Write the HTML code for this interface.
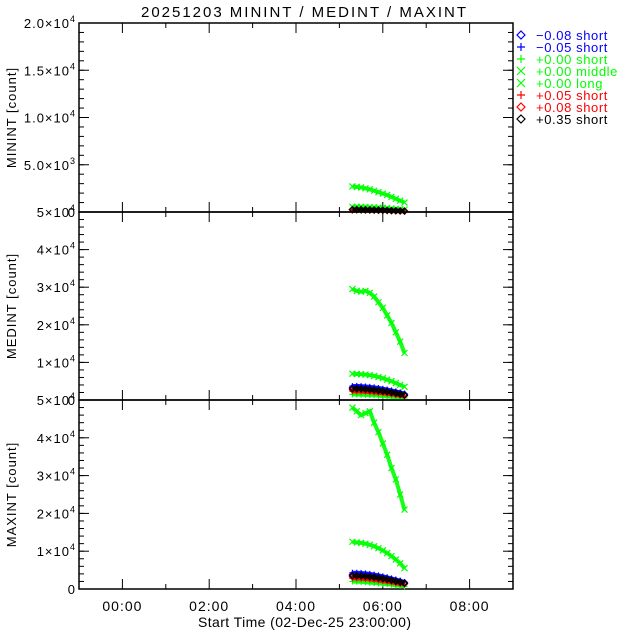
<!DOCTYPE html>
<html><head><meta charset="utf-8">
<style>
html,body{margin:0;padding:0;background:#fff;}
svg{display:block;font-family:"Liberation Sans",sans-serif;}
text{letter-spacing:1px;}
</style></head>
<body>
<svg id="chart" width="640" height="640" viewBox="0 0 640 640"></svg>
<script>
// ---- data ----
const times = [5.3,5.4,5.5,5.6,5.7,5.8,5.9,6.0,6.1,6.2,6.3,6.4,6.5];
const seriesNames = ["-0.08 short","-0.05 short","+0.00 short","+0.00 middle","+0.00 long","+0.05 short","+0.08 short","+0.35 short"];
const seriesLabels = ["\u22120.08 short","\u22120.05 short","+0.00 short","+0.00 middle","+0.00 long","+0.05 short","+0.08 short","+0.35 short"];
const seriesColors = ["#0000ff","#0000ff","#00ff00","#00ff00","#00ff00","#ff0000","#ff0000","#000000"];
const seriesSymbols = ["diamond","plus","plus","cross","cross","plus","diamond","diamond"];
// MININT
const minM008 = [250,250,240,230,220,210,200,190,170,150,130,110,100];
const minM005 = [300,300,290,280,270,260,240,220,200,180,160,140,120];
const minS000 = [150,150,140,140,130,120,110,100,90,80,70,60,50];
const minMid000 = [550,550,540,520,500,480,460,430,400,360,320,280,250];
const minLong000 = [2700,2650,2600,2500,2400,2250,2100,1950,1800,1600,1400,1200,1000];
const minP005 = [200,200,190,180,170,160,150,140,130,110,100,90,80];
const minP008 = [220,220,210,200,190,180,170,160,150,130,120,100,90];
const minP035 = [260,260,250,240,230,220,210,200,180,160,140,120,100];
// MEDINT
const medM008 = [3300,3300,3250,3150,3050,2900,2750,2600,2400,2200,2000,1800,1500];
const medM005 = [3700,3750,3700,3600,3500,3350,3200,3000,2800,2550,2300,2000,1700];
const medS000 = [1500,1450,1400,1350,1300,1250,1150,1050,950,850,750,650,550];
const medMid000 = [7000,6900,6850,6750,6600,6400,6100,5800,5400,5000,4500,4000,3500];
const medLong000 = [29500,29000,28800,29000,28500,27500,26000,24500,22500,20500,18000,15500,12500];
const medP005 = [2300,2300,2250,2200,2100,2000,1900,1800,1650,1500,1350,1200,1000];
const medP008 = [2700,2700,2650,2550,2450,2350,2250,2100,1950,1800,1600,1400,1200];
const medP035 = [3000,3000,2950,2850,2750,2650,2500,2350,2200,2000,1800,1550,1300];
// MAXINT
const maxM008 = [3800,3800,3750,3650,3500,3350,3150,2950,2750,2500,2250,2000,1700];
const maxM005 = [4300,4300,4250,4150,4000,3800,3600,3350,3100,2800,2500,2200,1800];
const maxS000 = [2000,1950,1900,1800,1700,1600,1500,1400,1300,1150,1000,850,700];
const maxMid000 = [12500,12300,12200,12000,11700,11300,10800,10200,9500,8700,7800,6800,5500];
const maxLong000 = [48000,47000,46000,46500,47000,44000,41500,38500,35500,32000,29000,25000,21000];
const maxP005 = [2800,2800,2750,2650,2550,2400,2250,2100,1950,1750,1550,1350,1200];
const maxP008 = [3200,3200,3150,3050,2950,2800,2650,2500,2300,2100,1900,1650,1400];
const maxP035 = [3500,3500,3450,3350,3250,3100,2950,2750,2550,2300,2050,1800,1500];
// ticks
const xTickHours = [0,2,4,6,8];
const xTickLabels = ["00:00","02:00","04:00","06:00","08:00"];
const minTicks = [0,5000,10000,15000,20000];
const minTickLabels = ["0","5.0\u00d710<tspan dy='-6' font-size='9'>3</tspan>","1.0\u00d710<tspan dy='-6' font-size='9'>4</tspan>","1.5\u00d710<tspan dy='-6' font-size='9'>4</tspan>","2.0\u00d710<tspan dy='-6' font-size='9'>4</tspan>"];
const bigTicks = [0,10000,20000,30000,40000,50000];
const bigTickLabels = ["0","1\u00d710<tspan dy='-6' font-size='9'>4</tspan>","2\u00d710<tspan dy='-6' font-size='9'>4</tspan>","3\u00d710<tspan dy='-6' font-size='9'>4</tspan>","4\u00d710<tspan dy='-6' font-size='9'>4</tspan>","5\u00d710<tspan dy='-6' font-size='9'>4</tspan>"];

const panels = [
  {name:"minint", title:"MININT [count]", top:23, bottom:212, max:20000, ticks:minTicks, labels:minTickLabels, minorStep:1000,
   series:[minM008,minM005,minS000,minMid000,minLong000,minP005,minP008,minP035]},
  {name:"medint", title:"MEDINT [count]", top:212, bottom:400, max:50000, ticks:bigTicks, labels:bigTickLabels, minorStep:2000,
   series:[medM008,medM005,medS000,medMid000,medLong000,medP005,medP008,medP035]},
  {name:"maxint", title:"MAXINT [count]", top:400, bottom:589, max:50000, ticks:bigTicks, labels:bigTickLabels, minorStep:2000,
   series:[maxM008,maxM005,maxS000,maxMid000,maxLong000,maxP005,maxP008,maxP035]}
];

const svg = document.getElementById('chart');
const NS = "http://www.w3.org/2000/svg";
const X0 = 79, X1 = 513, H0 = -1, H1 = 9;
function xs(h){ return X0 + (h - H0) / (H1 - H0) * (X1 - X0); }
function mk(tag, attrs, parent){
  const e = document.createElementNS(NS, tag);
  for (const k in attrs) e.setAttribute(k, attrs[k]);
  (parent || svg).appendChild(e);
  return e;
}
function drawSymbol(g, sym, x, y, color, s){
  let e;
  if (sym === "plus") e = mk('path', {d:`M${x-s},${y}H${x+s}M${x},${y-s}V${y+s}`, stroke:color, 'stroke-width':1.2, fill:'none'}, g);
  else if (sym === "cross") e = mk('path', {d:`M${x-s},${y-s}L${x+s},${y+s}M${x-s},${y+s}L${x+s},${y-s}`, stroke:color, 'stroke-width':1.2, fill:'none'}, g);
  else e = mk('path', {d:`M${x},${y-s}L${x+s},${y}L${x},${y+s}L${x-s},${y}Z`, stroke:color, 'stroke-width':1.2, fill:'none'}, g);
  return e;
}

const title = mk('text', {x:141, y:17, textLength:326, lengthAdjust:'spacing', 'font-size':15, fill:'#000'});
title.textContent = "20251203 MININT / MEDINT / MAXINT";



panels.forEach((p) => {
  const g = mk('g', {});
  
  
  const ys = v => p.bottom - v / p.max * (p.bottom - p.top);
  const fr = mk('rect', {x:X0, y:p.top, width:X1-X0, height:p.bottom-p.top, fill:'none', stroke:'#000', 'stroke-width':1.5}, g);
  
  
  for (let v = 0; v <= p.max; v += p.minorStep){
    const y = ys(v);
    mk('line', {x1:X0, x2:X0+5, y1:y, y2:y, stroke:'#000'}, g);
    mk('line', {x1:X1-5, x2:X1, y1:y, y2:y, stroke:'#000'}, g);
  }
  p.ticks.forEach((v, i) => {
    const y = ys(v);
    mk('line', {x1:X0, x2:X0+10, y1:y, y2:y, stroke:'#000'}, g);
    mk('line', {x1:X1-10, x2:X1, y1:y, y2:y, stroke:'#000'}, g);
    const t = mk('text', {x:X0-3, y:y+5, 'text-anchor':'end', 'font-size':13, fill:'#000'}, g);
    t.innerHTML = p.labels[i];
    
    
  });
  for (let h = H0; h <= H1; h += 1){
    const x = xs(h);
    const major = xTickHours.indexOf(h) >= 0;
    const len = major ? 10 : 5;
    mk('line', {x1:x, x2:x, y1:p.bottom, y2:p.bottom-len, stroke:'#000'}, g);
    mk('line', {x1:x, x2:x, y1:p.top, y2:p.top+len, stroke:'#000'}, g);
  }
  const yc = (p.top + p.bottom) / 2;
  const yt = mk('text', {x:16, y:yc, transform:`rotate(-90 16 ${yc})`, 'text-anchor':'middle', 'font-size':13, fill:'#000'}, g);
  yt.textContent = p.title;
  
  
  p.series.forEach((vals, si) => {
    const sg = mk('g', {}, g);
    
    
    const pts = vals.map((v, k) => xs(times[k]) + ',' + ys(v)).join(' ');
    mk('polyline', {points:pts, fill:'none', stroke:seriesColors[si], 'stroke-width':4, opacity:0.9}, sg);
    vals.forEach((v, k) => {
      const m = drawSymbol(sg, seriesSymbols[si], xs(times[k]), ys(v), seriesColors[si], 3);
      
      
    });
  });
});

xTickHours.forEach((h, i) => {
  const t = mk('text', {x:xs(h), y:611, 'text-anchor':'middle', 'font-size':14, fill:'#000'});
  t.textContent = xTickLabels[i];
  
  
});
const xt = mk('text', {x:198, y:627, textLength:214, lengthAdjust:'spacing', 'font-size':14, fill:'#000'});
xt.textContent = "Start Time (02-Dec-25 23:00:00)";



const lg = mk('g', {});


seriesLabels.forEach((lab, i) => {
  const y = 35 + i * 12;
  const eg = mk('g', {}, lg);
  
  
  drawSymbol(eg, seriesSymbols[i], 521, y, seriesColors[i], 4);
  const t = mk('text', {x:536, y:y+5, 'font-size':13, fill:seriesColors[i], style:'letter-spacing:0.6px'}, eg);
  t.textContent = lab;
});
</script>
</body></html>
